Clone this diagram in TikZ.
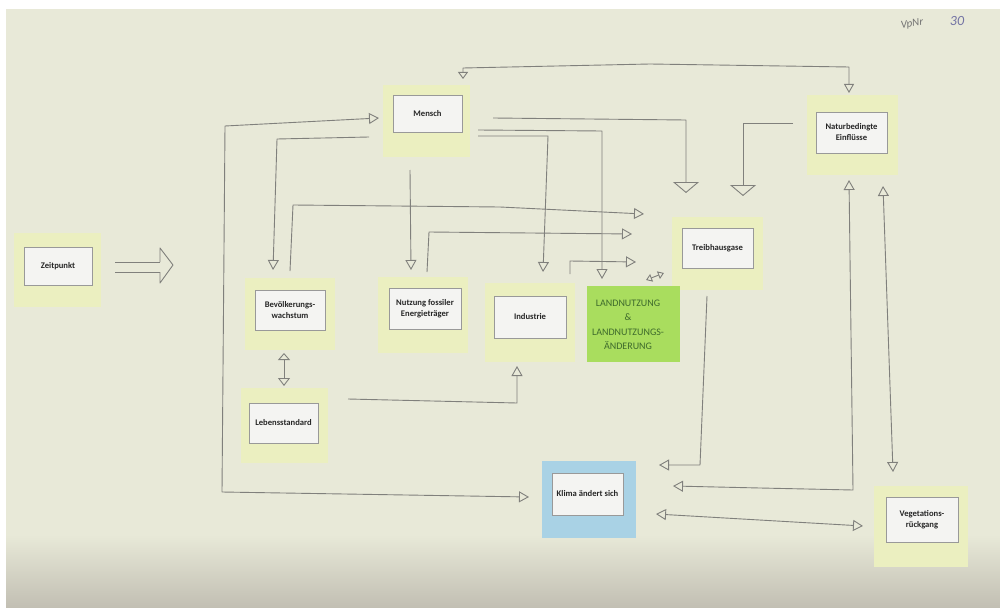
\documentclass[tikz,border=0pt]{standalone}
\usepackage{fontspec}
\setmainfont{Carlito}
\usetikzlibrary{arrows.meta}
\definecolor{paper}{HTML}{E8E9D8}
\definecolor{paperdark}{HTML}{C2BFB3}
\definecolor{notey}{HTML}{EBEFC0}
\definecolor{cardc}{HTML}{F4F4F2}
\definecolor{pencil}{HTML}{80807C}
\definecolor{limeg}{HTML}{A9DD5E}
\definecolor{skyb}{HTML}{A9D2E5}
\definecolor{inkgreen}{HTML}{3E6A2C}
\begin{document}
\begin{tikzpicture}[x=1pt,y=-1pt,
  notebox/.style={fill=notey, draw=none, inner sep=0pt},
  cardbox/.style={fill=cardc, draw=black!40, line width=0.5pt, inner sep=1pt, align=center,
    font=\fontsize{8.6}{11}\selectfont\bfseries, text=black!85},
  pen/.style={draw=pencil, line width=0.9pt, line join=round},
  >={Triangle[open, length=10pt, width=11pt]},
  bigtip/.style={-{Triangle[open, length=11pt, width=26pt]}},
  smalltip/.style={{Triangle[open, length=6pt, width=8pt]}-{Triangle[open, length=6pt, width=8pt]}}
]
\useasboundingbox (0,0) rectangle (1000,607);
\fill[white] (0,0) rectangle (1000,607);
\fill[paper] (6,9) rectangle (1000,607);
\shade[top color=paper, bottom color=paperdark] (6,535) rectangle (1000,607);

% sticky notes
\node[notebox, minimum width=87pt, minimum height=74pt] (zeitN) at (57.5,270) {};
\node[cardbox, minimum width=68pt, minimum height=38pt] (zeit) at (58,266) {Zeitpunkt};
\node[notebox, minimum width=87pt, minimum height=72pt] (menschN) at (426.5,121) {};
\node[cardbox, minimum width=69pt, minimum height=37pt] (mensch) at (427.5,113.5) {Mensch};
\node[notebox, minimum width=91pt, minimum height=80pt] (naturN) at (852.5,135) {};
\node[cardbox, minimum width=71pt, minimum height=41pt] (natur) at (851.5,132.5) {Naturbedingte\\Einflüsse};
\node[notebox, minimum width=91pt, minimum height=73pt] (treibN) at (717.5,253.5) {};
\node[cardbox, minimum width=71pt, minimum height=40pt] (treib) at (717.5,248) {Treibhausgase};
\node[notebox, minimum width=90pt, minimum height=72pt] (bevN) at (290,314) {};
\node[cardbox, minimum width=70pt, minimum height=40pt] (bev) at (290,310) {Bevölkerungs-\\wachstum};
\node[notebox, minimum width=90pt, minimum height=76pt] (nutzN) at (423,315) {};
\node[cardbox, minimum width=72pt, minimum height=41pt] (nutz) at (425,308.5) {Nutzung fossiler\\Energieträger};
\node[notebox, minimum width=90pt, minimum height=79pt] (indN) at (530,322.5) {};
\node[cardbox, minimum width=72pt, minimum height=42pt] (ind) at (530,317) {Industrie};
\node[fill=limeg, minimum width=93pt, minimum height=76pt, inner sep=0pt] (landN) at (633.5,324) {};
\node[align=center, text=inkgreen, font=\fontsize{10}{14.5}\selectfont, inner sep=0pt] (land) at (628,325)
  {LANDNUTZUNG\\\&\\LANDNUTZUNGS-\\ÄNDERUNG};
\node[notebox, minimum width=87pt, minimum height=75pt] (lebN) at (284.5,425.5) {};
\node[cardbox, minimum width=69pt, minimum height=40pt] (leb) at (283.5,423) {Lebensstandard};
\node[fill=skyb, minimum width=94pt, minimum height=77pt, inner sep=0pt] (klimaN) at (589,499.5) {};
\node[cardbox, minimum width=71pt, minimum height=42pt] (klima) at (587.5,494) {Klima ändert sich};
\node[notebox, minimum width=94pt, minimum height=81pt] (vegN) at (921,526.5) {};
\node[cardbox, minimum width=72pt, minimum height=45pt] (veg) at (922,519.5) {Vegetations-\\rückgang};

% handwritten note
\node[text=black!55, font=\fontsize{11}{11}\selectfont\itshape, rotate=8] (vpnr) at (912,24) {VpNr};
\node[text=blue!35!black!55, font=\fontsize{14}{14}\selectfont\itshape] (nr) at (957,21) {30};

% Zeitpunkt double arrow
\coordinate (zs1) at (115,262); \coordinate (ze1) at (160,262);
\coordinate (zs2) at (115,272); \coordinate (ze2) at (160,272);
\draw[pen] (zs1) -- (ze1);
\draw[pen] (zs2) -- (ze2);
\draw[pen] (ze1) -- (160,248) -- (173,265) -- (160,283) -- (ze2);

% big loop: Mensch <-> Klima
\coordinate (lm) at (379,118);
\coordinate (lk) at (529,497);
\draw[pen,<->] (lm) -- (225,126) -- (222,492) -- (lk);

% Mensch -> Bevoelkerung
\coordinate (mb1) at (369,137); \coordinate (mb2) at (273,270);
\draw[pen,->] (mb1) -- (277,139) -- (mb2);

% Bevoelkerung -> Treibhausgase
\coordinate (bt1) at (290,271); \coordinate (bt2) at (644,214);
\draw[pen,->] (bt1) -- (293,205) -- (500,207) -- (bt2);

% Mensch -> Nutzung
\coordinate (mn1) at (410,170); \coordinate (mn2) at (411,270);
\draw[pen,->] (mn1) -- (mn2);

% Nutzung -> Treibhausgase
\coordinate (nt1) at (427,272); \coordinate (nt2) at (632,234);
\draw[pen,->] (nt1) -- (429,232) -- (nt2);

% Mensch -> Industrie
\coordinate (mi1) at (478,136); \coordinate (mi2) at (543,272);
\draw[pen,->] (mi1) -- (548,136) -- (mi2);

% Mensch -> Landnutzung
\coordinate (ml1) at (478,130); \coordinate (ml2) at (602,279);
\draw[pen,->] (ml1) -- (602,131) -- (ml2);

% Mensch -> Treibhausgase
\coordinate (mt1) at (493,118); \coordinate (mt2) at (686,193);
\draw[pen,bigtip] (mt1) -- (686,120) -- (mt2);

% Naturbedingte -> Treibhausgase
\coordinate (ntr1) at (793,123); \coordinate (ntr2) at (743,196);
\draw[pen,bigtip] (ntr1) -- (743,123) -- (ntr2);

% Industrie -> Treibhausgase
\coordinate (it1) at (570,274); \coordinate (it2) at (636,262);
\draw[pen,->] (it1) -- (570,261) -- (it2);

% Landnutzung <-> Treibhausgase (small)
\coordinate (lt1) at (646,280); \coordinate (lt2) at (664,273);
\draw[pen,smalltip] (lt1) -- (lt2);

% Mensch <-> Naturbedingte (top)
\coordinate (tn1) at (463,79); \coordinate (tn2) at (849,93);
\draw[pen,{Triangle[open,length=7pt,width=10pt]}-{Triangle[open,length=9pt,width=10pt]}]
  (tn1) -- (463,68) -- (650,64) -- (849,67) -- (tn2);

% Klima <-> Naturbedingte
\coordinate (kn1) at (673,486); \coordinate (kn2) at (849,180);
\draw[pen,<->] (kn1) -- (760,488) -- (853,490) -- (kn2);

% Vegetation <-> Naturbedingte
\coordinate (vn1) at (883,186); \coordinate (vn2) at (893,472);
\draw[pen,<->] (vn1) -- (vn2);

% Klima <-> Vegetation
\coordinate (kv1) at (656,514); \coordinate (kv2) at (863,526);
\draw[pen,<->] (kv1) -- (kv2);

% Treibhausgase -> Klima
\coordinate (tk1) at (707,296); \coordinate (tk2) at (659,465);
\draw[pen,->] (tk1) -- (700,465) -- (tk2);

% Bevoelkerung <-> Lebensstandard
\coordinate (bl1) at (284,353); \coordinate (bl2) at (284,386);
\draw[pen,{Triangle[open,length=7pt,width=12pt]}-{Triangle[open,length=8pt,width=12pt]}] (bl1) -- (bl2);

% Lebensstandard -> Industrie
\coordinate (li1) at (348,399); \coordinate (li2) at (517,366);
\draw[pen,->] (li1) -- (517,403) -- (li2);
\end{tikzpicture}
\end{document}
